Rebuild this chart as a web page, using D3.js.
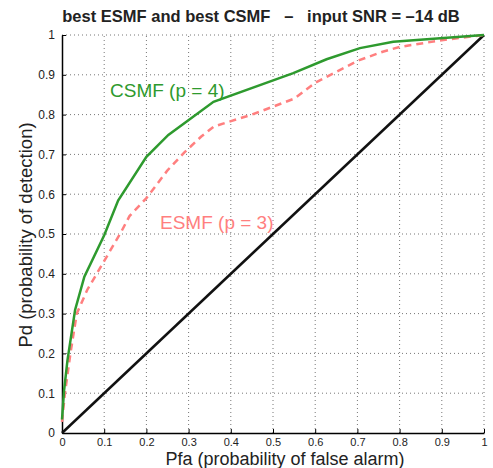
<!DOCTYPE html>
<html>
<head>
<meta charset="utf-8">
<script src="https://cdn.jsdelivr.net/npm/d3@7"></script>
<style>
  body { margin: 0; background: #fff; }
  text { font-family: 'Liberation Sans', Arial, sans-serif; }
</style>
</head>
<body>
<script>
// data
const ticks = [0, 0.1, 0.2, 0.3, 0.4, 0.5, 0.6, 0.7, 0.8, 0.9, 1];
const tickLabels = ['0', '0.1', '0.2', '0.3', '0.4', '0.5', '0.6', '0.7', '0.8', '0.9', '1'];

const csmfPfa = [0, 0.005, 0.013, 0.031, 0.053, 0.1, 0.133, 0.2, 0.252, 0.359, 0.548, 0.627, 0.706, 0.785, 1];
const csmfPd = [0.034, 0.108, 0.183, 0.309, 0.393, 0.497, 0.584, 0.694, 0.749, 0.832, 0.904, 0.939, 0.967, 0.983, 1];

const esmfPfa = [0, 0.007, 0.02, 0.035, 0.06, 0.09, 0.14, 0.16, 0.2, 0.25, 0.29, 0.33, 0.36, 0.45, 0.55, 0.6, 0.7, 0.76, 0.8, 0.9, 1];
const esmfPd = [0.028, 0.1, 0.2, 0.3, 0.36, 0.414, 0.505, 0.545, 0.59, 0.66, 0.705, 0.745, 0.77, 0.8, 0.84, 0.88, 0.935, 0.958, 0.97, 0.987, 1];

const chancePfa = [0, 1];
const chancePd = [0, 1];

// setting canvas
const width = 493;
const height = 468;
const margin = { top: 35, left: 62, bottom: 35, right: 9 };

const svg = d3.select('body').append('svg').attr('width', width).attr('height', height);

const x = d3.scaleLinear().domain([0, 1]).range([margin.left, width - margin.right]);
const y = d3.scaleLinear().domain([0, 1]).range([height - margin.bottom, margin.top]);

// grid
const grid = svg.append('g').attr('stroke', '#777').attr('stroke-width', 1).attr('stroke-dasharray', '1,3');
grid.selectAll('.gx').data(ticks.slice(1)).enter().append('line')
  .attr('x1', (d) => x(d)).attr('x2', (d) => x(d))
  .attr('y1', y(0)).attr('y2', y(1));
grid.selectAll('.gy').data(ticks.slice(1)).enter().append('line')
  .attr('x1', x(0)).attr('x2', x(1))
  .attr('y1', (d) => y(d)).attr('y2', (d) => y(d));

// axes
const xAxis = (g) =>
  g.attr('transform', `translate(0, ${y(0)})`)
    .call(d3.axisBottom(x).tickValues(ticks).tickFormat((d, i) => tickLabels[i]).tickSizeInner(-4).tickSizeOuter(0).tickPadding(5))
    .call((g) => g.select('.domain').attr('stroke-width', 1.5))
    .call((g) => g.selectAll('text').attr('font-size', '11px').attr('fill', '#222').attr('font-family', 'Liberation Sans, Arial, sans-serif'));

const yAxis = (g) =>
  g.attr('transform', `translate(${x(0)}, 0)`)
    .call(d3.axisLeft(y).tickValues(ticks).tickFormat((d, i) => tickLabels[i]).tickSizeInner(-4).tickSizeOuter(0).tickPadding(7))
    .call((g) => g.select('.domain').attr('stroke-width', 1.5))
    .call((g) => g.selectAll('text').attr('font-size', '12px').attr('fill', '#222').attr('font-family', 'Liberation Sans, Arial, sans-serif'));

svg.append('g').call(xAxis);
svg.append('g').call(yAxis);

// lines
const line = d3.line().x((d) => x(d[0])).y((d) => y(d[1]));
const zip = (a, b) => a.map((v, i) => [v, b[i]]);

svg.append('path')
  .datum(zip(chancePfa, chancePd))
  .attr('fill', 'none').attr('stroke', '#111').attr('stroke-width', 2.5)
  .attr('d', line);

svg.append('path')
  .datum(zip(esmfPfa, esmfPd))
  .attr('fill', 'none').attr('stroke', '#ff7f7f').attr('stroke-width', 2.5)
  .attr('stroke-dasharray', '7,5')
  .attr('d', line);

svg.append('path')
  .datum(zip(csmfPfa, csmfPd))
  .attr('fill', 'none').attr('stroke', '#2e9a2e').attr('stroke-width', 2.5)
  .attr('d', line);

// labels
svg.append('text').text('CSMF (p = 4)')
  .attr('x', 110).attr('y', 97).attr('fill', '#2e9a2e').attr('font-size', '19px');
svg.append('text').text('ESMF (p = 3)')
  .attr('x', 160).attr('y', 229).attr('fill', '#ff7f7f').attr('font-size', '19px');

svg.append('text').text('best ESMF and best CSMF\u00a0\u00a0\u00a0\u2013\u00a0\u00a0\u00a0input SNR = \u201314 dB')
  .attr('x', 261).attr('y', 22).attr('text-anchor', 'middle')
  .attr('font-size', '16.5px').attr('font-weight', 'bold').attr('fill', '#222');

svg.append('text').text('Pfa (probability of false alarm)')
  .attr('x', 285).attr('y', 465).attr('text-anchor', 'middle')
  .attr('font-size', '18px').attr('fill', '#222');

svg.append('text').text('Pd (probability of detection)')
  .attr('transform', `translate(32, 235) rotate(-90)`)
  .attr('text-anchor', 'middle')
  .attr('font-size', '18.5px').attr('fill', '#222');
</script>
</body>
</html>
